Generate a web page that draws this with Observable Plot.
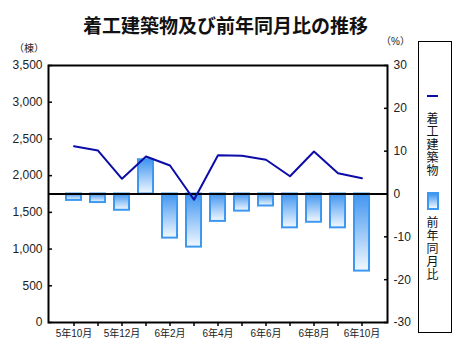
<!DOCTYPE html>
<html><head><meta charset="utf-8">
<script src="https://cdn.jsdelivr.net/npm/d3@7"></script>
<script src="https://cdn.jsdelivr.net/npm/@observablehq/plot@0.6"></script>
<style>
body{margin:0;background:#fff;}
#chart{position:relative;width:471px;height:362px;overflow:hidden;}
#chart svg{position:absolute;left:0;top:0;}
.ov{position:absolute;font-family:"Liberation Sans","Noto Sans CJK JP",sans-serif;color:#222;white-space:nowrap;}
.vt{writing-mode:vertical-rl;text-orientation:upright;letter-spacing:1px;}
</style></head><body><div id="chart"></div>
<script>
const months = ["5年10月","5年11月","5年12月","6年1月","6年2月","6年3月","6年4月","6年5月","6年6月","6年7月","6年8月","6年9月","6年10月"];
const starts = [2401,2342,1957,2261,2138,1671,2278,2272,2216,1992,2329,2033,1965];
const yoy = [-1.5,-2.0,-3.8,8.0,-10.3,-12.4,-6.4,-4.0,-2.8,-7.9,-6.6,-7.9,-18.0];
const leftTicks = [0,500,1000,1500,2000,2500,3000,3500];
const rightTicks = [-30,-20,-10,0,10,20,30];
const shownMonths = ["5年10月","5年12月","6年2月","6年4月","6年6月","6年8月","6年10月"];

const mid = 1750;
const toLeft = p => mid + p * mid / 30;
const fromLeft = v => Math.round((v - mid) * 30 / mid);
const data = months.map((m, i) => ({month: m, starts: starts[i], yoy: yoy[i]}));
const shown = new Set(shownMonths);

const font = "'Liberation Sans','Noto Sans CJK JP',sans-serif";
const plot = Plot.plot({
  width: 471, height: 362,
  marginLeft: 48, marginRight: 84, marginTop: 65, marginBottom: 40,
  style: {fontFamily: font, background: "white", color: "#222"},
  x: {type: "band", domain: months, paddingInner: 0.376, paddingOuter: 0.52, axis: null, label: null},
  y: {domain: [0, 3500], axis: null, label: null},
  marks: [
    Plot.barY(data, {x: "month", y1: mid, y2: d => toLeft(d.yoy), fill: "url(#barGrad)", stroke: "#3d98f2", strokeWidth: 2}),
    Plot.ruleY([mid], {stroke: "black", strokeWidth: 2}),
    Plot.lineY(data, {x: "month", y: "starts", stroke: "#0c0ca8", strokeWidth: 2}),
    Plot.frame({stroke: "black", strokeWidth: 2}),
    Plot.axisY(leftTicks, {anchor: "left", label: null, tickSize: 4, dx: 4, tickFormat: () => "", stroke: "black", strokeWidth: 1.5}),
    Plot.axisY(leftTicks, {anchor: "left", label: null, tickSize: 0, tickPadding: 6, fontSize: 12, tickFormat: d3.format(",")}),
    Plot.axisY(rightTicks.map(toLeft), {anchor: "right", label: null, tickSize: 4, dx: -4, tickFormat: () => "", stroke: "black", strokeWidth: 1.5}),
    Plot.axisY(rightTicks.map(toLeft), {anchor: "right", label: null, tickSize: 0, tickPadding: 6, fontSize: 12, tickFormat: v => String(fromLeft(v))}),
    Plot.axisX(months, {anchor: "bottom", label: null, tickSize: 4, tickPadding: 3, fontSize: 10, stroke: "black", strokeWidth: 1.5, tickFormat: d => shown.has(d) ? d : ""})
  ]
});

const svg = d3.select(plot);
const defs = svg.insert("defs", ":first-child");
const g = defs.append("linearGradient").attr("id", "barGrad").attr("x1", 0).attr("y1", 0).attr("x2", 0).attr("y2", 1);
g.append("stop").attr("offset", "0%").attr("stop-color", "#3f94f0");
g.append("stop").attr("offset", "100%").attr("stop-color", "#f2f8ff");

const chart = document.getElementById("chart");
chart.appendChild(plot);

function ov(html, css, cls) {
  const d = document.createElement("div");
  d.className = "ov" + (cls ? " " + cls : "");
  d.innerHTML = html;
  Object.assign(d.style, css);
  chart.appendChild(d);
  return d;
}
ov("着工建築物及び前年同月比の推移", {left: "83px", top: "12px", width: "252px", textAlign: "center", fontSize: "19px", fontWeight: "bold", fontFamily: "'Noto Sans CJK JP',sans-serif", color: "#111", lineHeight: "26px"});
ov("（棟）", {left: "14px", top: "42px", fontSize: "10px", lineHeight: "13px"});
ov("（%）", {left: "381px", top: "35px", fontSize: "10px", lineHeight: "13px"});
// legend
ov("", {left: "418px", top: "41px", width: "32px", height: "290px", border: "1px solid black"});
ov("", {left: "427px", top: "95px", width: "11px", height: "2px", background: "#0c0ca8"});
ov("着工建築物", {left: "426px", top: "112px", width: "13px", fontSize: "12px", lineHeight: "13px", fontFamily: "'Noto Sans CJK JP',sans-serif", color: "#111"}, "vt");
ov("", {left: "427px", top: "192px", width: "8px", height: "14px", border: "2px solid #3d98f2", background: "linear-gradient(#3f94f0,#f2f8ff)"});
ov("前年同月比", {left: "426px", top: "216px", width: "13px", fontSize: "12px", lineHeight: "13px", fontFamily: "'Noto Sans CJK JP',sans-serif", color: "#111"}, "vt");
</script></body></html>
